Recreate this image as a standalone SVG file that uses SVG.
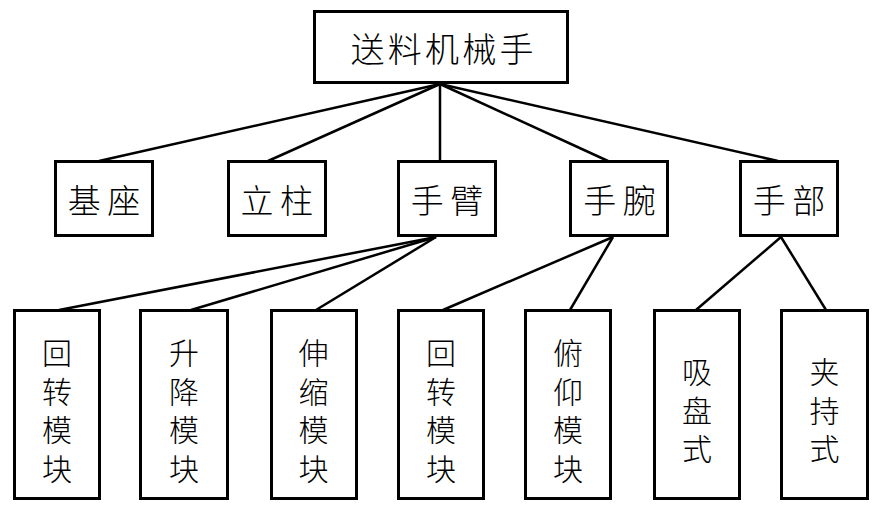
<svg xmlns="http://www.w3.org/2000/svg" width="880" height="515" viewBox="0 0 880 515">
<style>
.box{fill:#fff;stroke:#000;stroke-width:3}
.lnk{stroke:#000;stroke-width:2.5;fill:none}
.t{font-family:"Noto Sans CJK SC","Noto Sans CJK JP",sans-serif;font-weight:300;fill:#000;text-anchor:middle;dominant-baseline:central}
.t1{font-size:34px}
.t2{font-size:33px}
.t3{font-size:30px}
</style>
<rect width="880" height="515" fill="#fff"/>
<g id="connectors">
<line class="lnk" x1="440" y1="84" x2="99" y2="161"/>
<line class="lnk" x1="440" y1="84" x2="268" y2="161"/>
<line class="lnk" x1="440" y1="84" x2="440" y2="161"/>
<line class="lnk" x1="440" y1="84" x2="608" y2="161"/>
<line class="lnk" x1="440" y1="84" x2="778" y2="161"/>
<line class="lnk" x1="436" y1="237" x2="59" y2="310"/>
<line class="lnk" x1="436" y1="237" x2="191" y2="310"/>
<line class="lnk" x1="436" y1="237" x2="316" y2="310"/>
<line class="lnk" x1="613" y1="237" x2="443" y2="310"/>
<line class="lnk" x1="613" y1="237" x2="570" y2="310"/>
<line class="lnk" x1="781" y1="237" x2="696" y2="310"/>
<line class="lnk" x1="781" y1="237" x2="826" y2="310"/>
</g>
<g id="root">
<rect class="box" x="314.5" y="11.5" width="253" height="71"/>
<text class="t t1" x="367.5 404.75 442 479.25 516.5" y="47.5">送料机械手</text>
</g>
<g id="jizuo">
<rect class="box" x="55.5" y="161.5" width="97" height="74"/>
<text class="t t2" x="84.25 123.75" y="199">基座</text>
</g>
<g id="lizhu">
<rect class="box" x="228.5" y="161.5" width="97" height="74"/>
<text class="t t2" x="257 296.5" y="199">立柱</text>
</g>
<g id="shoubi">
<rect class="box" x="398.5" y="161.5" width="97" height="74"/>
<text class="t t2" x="427.25 466.75" y="199">手臂</text>
</g>
<g id="shouwan">
<rect class="box" x="570.5" y="161.5" width="97" height="74"/>
<text class="t t2" x="599.75 639.25" y="199">手腕</text>
</g>
<g id="shoubu">
<rect class="box" x="740.5" y="161.5" width="97" height="74"/>
<text class="t t2" x="769.25 808.75" y="199">手部</text>
</g>
<g id="huizhuan1">
<rect class="box" x="14.5" y="310.5" width="85" height="188"/>
<text class="t t3" x="57 57 57 57" y="351 389.5 428 466.5">回转模块</text>
</g>
<g id="shengjiang">
<rect class="box" x="140.5" y="310.5" width="87" height="188"/>
<text class="t t3" x="184 184 184 184" y="351 389.5 428 466.5">升降模块</text>
</g>
<g id="shensuo">
<rect class="box" x="271.5" y="310.5" width="85" height="188"/>
<text class="t t3" x="313.5 313.5 313.5 313.5" y="351 389.5 428 466.5">伸缩模块</text>
</g>
<g id="huizhuan2">
<rect class="box" x="398.5" y="310.5" width="85" height="188"/>
<text class="t t3" x="441 441 441 441" y="351 389.5 428 466.5">回转模块</text>
</g>
<g id="fuyang">
<rect class="box" x="525.5" y="310.5" width="85" height="188"/>
<text class="t t3" x="568 568 568 568" y="351 389.5 428 466.5">俯仰模块</text>
</g>
<g id="xipan">
<rect class="box" x="654.5" y="310.5" width="85" height="188"/>
<text class="t t3" x="697 697 697" y="370 408.5 447">吸盘式</text>
</g>
<g id="jiachi">
<rect class="box" x="781.5" y="310.5" width="86" height="188"/>
<text class="t t3" x="824.5 824.5 824.5" y="370 408.5 447">夹持式</text>
</g>
</svg>
